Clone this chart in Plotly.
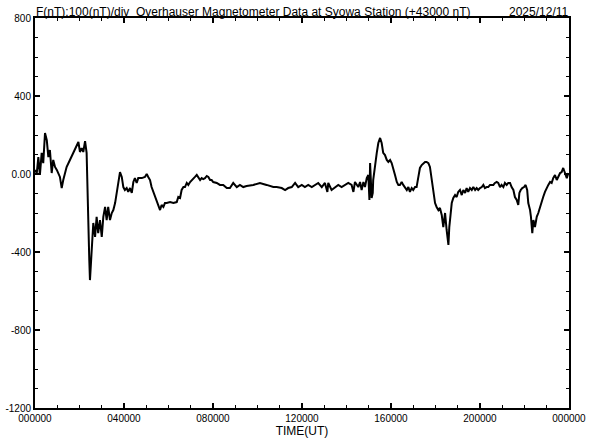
import plotly.graph_objects as go

# Time (hours UT) and total field deviation (nT, relative to 43000 nT)
time_h = [0, 0.08, 0.15, 0.22, 0.30, 0.37, 0.45, 0.53, 0.60, 0.67, 0.75, 0.82, 0.90, 0.98,
          1.12, 1.20, 1.27, 1.42, 1.57, 1.72, 1.87, 1.95, 2.02, 2.10, 2.17, 2.25, 2.32, 2.35,
          2.40, 2.44, 2.47, 2.52, 2.59, 2.62, 2.70, 2.77, 2.84, 2.92, 3.00, 3.07, 3.15, 3.22,
          3.29, 3.37, 3.45, 3.52, 3.60, 3.67, 3.74, 3.82, 3.90, 3.97, 4.04, 4.12, 4.19, 4.27,
          4.35, 4.42, 4.49, 4.57, 4.64, 4.80, 4.94, 5.02, 5.09, 5.17, 5.24, 5.32, 5.39, 5.47,
          5.54, 5.62, 5.69, 5.77, 5.84, 5.92, 6.07, 6.22, 6.37, 6.44, 6.52, 6.59, 6.67, 6.74,
          6.82, 6.89, 6.97, 7.04, 7.11, 7.19, 7.27, 7.34, 7.42, 7.49, 7.56, 7.64, 7.72, 7.79,
          7.87, 7.94, 8.01, 8.17, 8.31, 8.46, 8.62, 8.76, 8.91, 9.07, 9.21, 9.36, 9.51, 9.81,
          10.11, 10.41, 10.71, 10.86, 11.09, 11.24, 11.38, 11.54, 11.69, 11.83, 11.99, 12.13,
          12.28, 12.44, 12.58, 12.73, 12.89, 13.03, 13.14, 13.18, 13.33, 13.48, 13.63, 13.78,
          13.93, 14.08, 14.23, 14.31, 14.38, 14.53, 14.61, 14.68, 14.76, 14.83, 14.91, 14.98,
          15.03, 15.06, 15.13, 15.18, 15.20, 15.28, 15.36, 15.43, 15.51, 15.58, 15.65, 15.73,
          15.81, 15.88, 15.96, 16.03, 16.10, 16.18, 16.26, 16.33, 16.40, 16.48, 16.55, 16.63,
          16.71, 16.78, 16.85, 16.93, 17.00, 17.08, 17.15, 17.23, 17.30, 17.38, 17.45, 17.53,
          17.60, 17.68, 17.75, 17.83, 17.90, 17.98, 18.05, 18.13, 18.20, 18.28, 18.35, 18.43,
          18.50, 18.58, 18.62, 18.68, 18.73, 18.80, 18.88, 18.95, 19.02, 19.10, 19.18, 19.25,
          19.33, 19.40, 19.47, 19.55, 19.63, 19.70, 19.78, 19.85, 19.92, 20.00, 20.08, 20.15,
          20.22, 20.30, 20.37, 20.45, 20.60, 20.67, 20.75, 20.82, 20.90, 20.97, 21.05, 21.12,
          21.20, 21.27, 21.35, 21.42, 21.50, 21.57, 21.65, 21.72, 21.77, 21.83, 21.90, 21.98,
          22.05, 22.12, 22.17, 22.25, 22.29, 22.35, 22.40, 22.47, 22.55, 22.62, 22.70, 22.77,
          22.84, 22.92, 23.00, 23.07, 23.15, 23.22, 23.29, 23.37, 23.45, 23.52, 23.60, 23.67,
          23.74, 23.82, 23.90, 23.97]
field_nt = [20, 5, 87, -5, 108, 56, 210, 174, 87, 123, 5, 72, 36, 21,
            -15, -72, -31, 36, 72, 108, 149, 164, 113, 133, 113, 169, 108, -67,
            -236, -441, -544, -456, -287, -251, -323, -220, -303, -236, -323, -220, -169, -236,
            -169, -236, -200, -185, -149, -97, -31, 10, -15, -67, -82, -72, -92, -72,
            -97, -41, -21, -46, -21, -21, -15, 0, -15, -31, -67, -92, -118, -133,
            -159, -185, -159, -169, -149, -149, -144, -149, -144, -118, -123, -82, -67, -67,
            -46, -56, -41, -31, -21, -15, -5, -21, -31, -21, -26, -21, -10, -15,
            -31, -31, -41, -46, -56, -56, -72, -72, -46, -67, -56, -67, -62, -56,
            -46, -56, -67, -67, -72, -82, -72, -67, -46, -67, -56, -67,
            -56, -67, -56, -46, -67, -46, -92, -46, -82, -67, -56, -67,
            -56, -46, -56, -92, -41, -67, -41, -82, -41, -67, -21, -5,
            -133, 56, -123, -97, -31, 56, 108, 159, 185, 159, 108, 97,
            72, 62, 72, 56, 31, -5, -41, -56, -56, -41, -56, -67,
            -82, -67, -92, -72, -82, -67, -67, -15, 31, 46, 56, 62,
            62, 56, 36, -31, -97, -149, -169, -185, -174, -210, -272, -200,
            -287, -364, -272, -200, -149, -123, -108, -118, -92, -82, -108, -82,
            -97, -72, -92, -72, -82, -67, -82, -72, -82, -72, -67, -56,
            -72, -67, -67, -56, -56, -46, -41, -46, -67, -56, -67, -46,
            -56, -46, -46, -67, -82, -118, -133, -159, -97, -82, -72, -67,
            -56, -82, -149, -185, -220, -303, -236, -272, -220, -200, -169, -133,
            -118, -92, -67, -56, -41, -46, -21, -5, -31, -15, 5, 10,
            31, 5, -21, 5]

x_tick_vals = [0, 4, 8, 12, 16, 20, 24]
x_tick_text = ["000000", "040000", "080000", "120000", "160000", "200000", "000000"]
y_tick_vals = [-1200, -800, -400, 0, 400, 800]
y_tick_text = ["-1200", "-800", "-400", "0.00", "400", "800"]

title_left = "F(nT):100(nT)/div  Overhauser Magnetometer Data at Syowa Station (+43000 nT)"
title_right = "2025/12/11"
x_title = "TIME(UT)"

FONT = "Liberation Sans, Arial, sans-serif"

fig = go.Figure()
fig.add_trace(go.Scatter(x=time_h, y=field_nt, mode="lines",
                         line=dict(color="black", width=2), showlegend=False,
                         hoverinfo="skip"))

fig.update_layout(
    width=592, height=440,
    margin=dict(l=35, r=23, t=18, b=32, autoexpand=False),
    paper_bgcolor="white", plot_bgcolor="white",
    font=dict(family=FONT, color="black", size=10),
    showlegend=False,
)

fig.update_xaxes(
    range=[0, 24], tickvals=x_tick_vals, ticktext=x_tick_text,
    showgrid=False, zeroline=False, automargin=False,
    showline=True, linecolor="black", linewidth=2, mirror="allticks",
    ticks="inside", ticklen=5, tickwidth=1.5, tickcolor="black",
    minor=dict(dtick=1, ticks="inside", ticklen=3, tickwidth=1, tickcolor="black", showgrid=False),
    tickfont=dict(size=10, family=FONT),
    title=dict(text=x_title, font=dict(size=12, family=FONT), standoff=0),
)
fig.update_yaxes(
    range=[-1200, 800], tickvals=y_tick_vals, ticktext=y_tick_text,
    showgrid=False, zeroline=False, automargin=False,
    showline=True, linecolor="black", linewidth=2, mirror="allticks",
    ticks="inside", ticklen=5, tickwidth=1.5, tickcolor="black",
    minor=dict(dtick=100, ticks="inside", ticklen=3, tickwidth=1, tickcolor="black", showgrid=False),
    tickfont=dict(size=10, family=FONT),
    ticklabelstandoff=0,
)

fig.add_annotation(text=title_left, xref="paper", yref="paper", x=0, y=1,
                   xanchor="left", yanchor="bottom", showarrow=False,
                   font=dict(size=12, family=FONT), yshift=-2, borderpad=0)
fig.add_annotation(text=title_right, xref="paper", yref="paper", x=1, y=1,
                   xanchor="right", yanchor="bottom", showarrow=False,
                   font=dict(size=12, family=FONT), yshift=-2, borderpad=0)

fig.write_html("out.html", config={"displayModeBar": False},
               post_script="document.body.style.margin='0';document.body.style.padding='0';")
